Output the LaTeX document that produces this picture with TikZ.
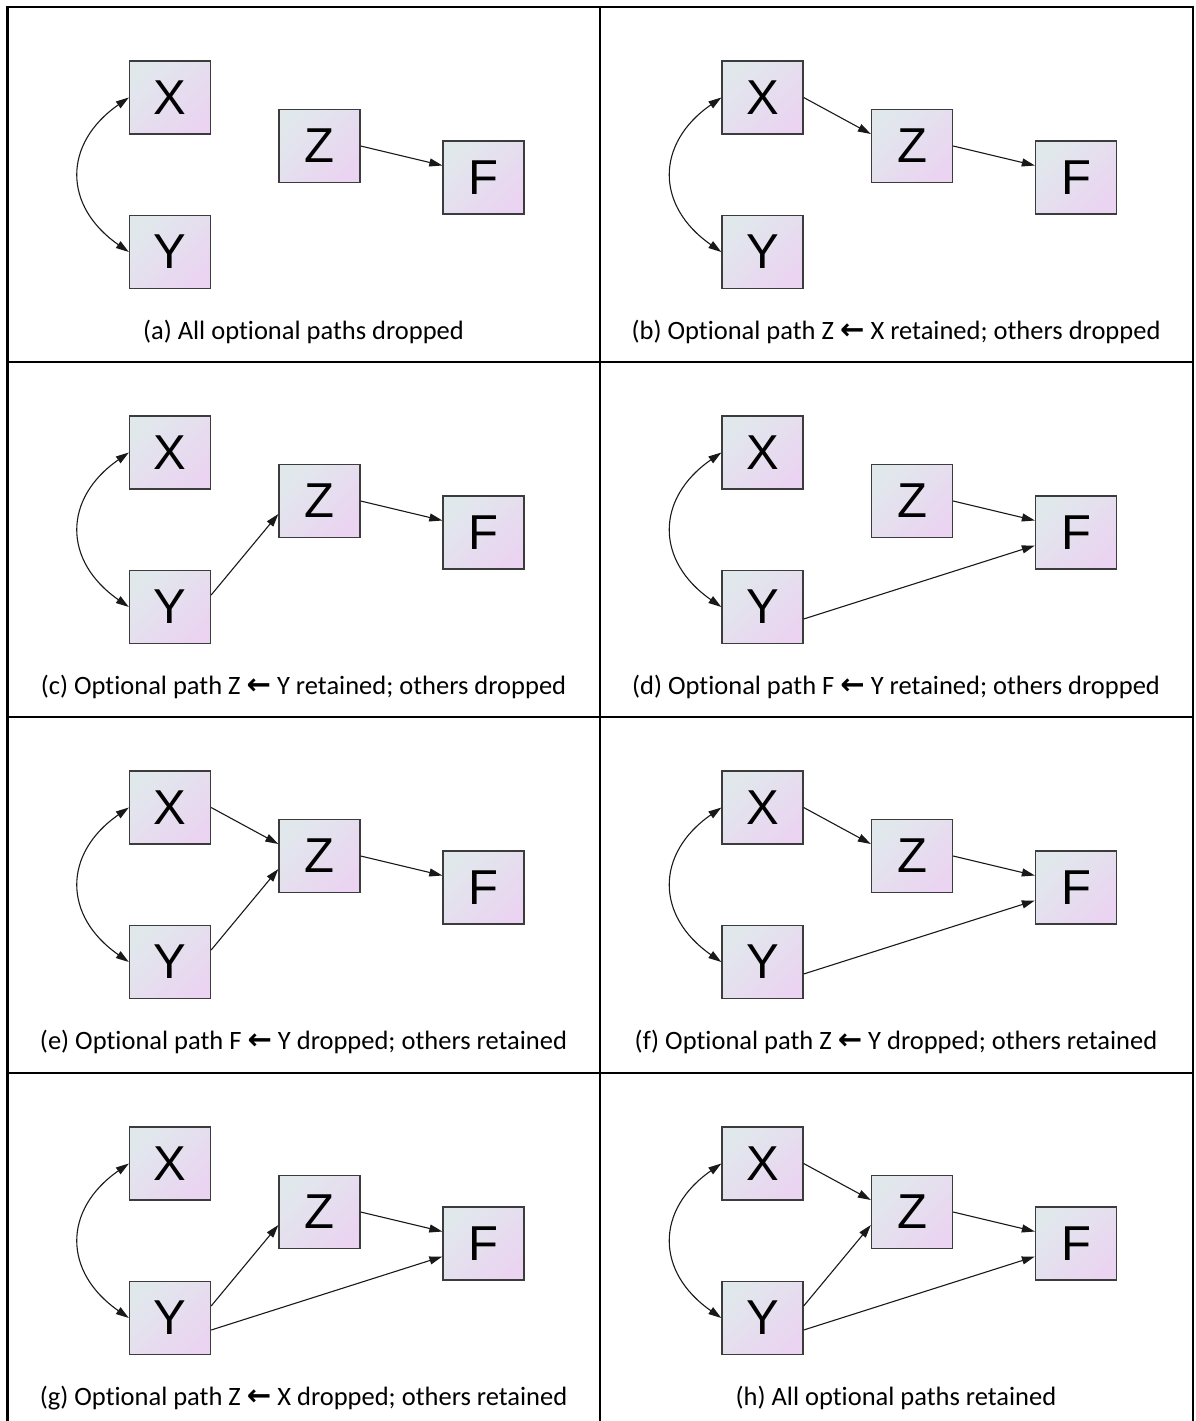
\documentclass[tikz,border=0pt]{standalone}
\usepackage{fontspec}
\setmainfont{Carlito}[Ligatures={NoCommon}]
\newfontfamily\nodefont{Liberation Sans}
\newfontfamily\arrowfont{DejaVu Sans}[Scale=1.1]
\usetikzlibrary{arrows.meta}
\definecolor{boxA}{RGB}{225,232,236}
\definecolor{boxB}{RGB}{234,212,241}
\definecolor{boxline}{RGB}{60,60,60}
\newcommand\capArrow{{\arrowfont\bfseries ←}}
\tikzset{
  var/.style={draw=boxline, line width=1.3pt, top color=boxA, bottom color=boxB, shading angle=45,
    minimum width=81pt, minimum height=73pt, inner sep=0pt, font=\nodefont\fontsize{49}{50}\selectfont},
  edge/.style={line width=1.1pt, draw=black!90, -{Triangle[length=13pt,width=8pt]}},
  biedge/.style={line width=1.1pt, draw=black!90, {Triangle[length=13pt,width=8pt]}-{Triangle[length=13pt,width=8pt]}},
  caption/.style={anchor=base, font=\fontsize{26.5}{30}\selectfont, inner sep=0pt},
  gridline/.style={line width=2.5pt, draw=black}
}
\newcommand\drawpanel[4]{%
  \begin{scope}[shift={(#1,#2)}]
    \node[var] (X#3) at (162.5,90.5) {X};
    \node[var] (Y#3) at (162.5,245) {Y};
    \node[var] (Z#3) at (312,139) {Z};
    \node[var] (F#3) at (476,170.5) {F};
    \node[caption] (C#3) at (296,332) {#4};
    \draw[biedge] (X#3.west) .. controls +(-66,46) and +(-66,-46) .. (Y#3.west);
    \draw[edge] (Z#3.east) -- ([yshift=12pt]F#3.west);
  \end{scope}}
\newcommand\edgeXZ[1]{\draw[edge] (X#1.east) -- ([yshift=12pt]Z#1.west);}
\newcommand\edgeYZ[1]{\draw[edge] ([yshift=12pt]Y#1.east) -- ([yshift=-13pt]Z#1.west);}
\newcommand\edgeYF[1]{\draw[edge] ([yshift=-12pt]Y#1.east) -- ([yshift=-13pt]F#1.west);}
\begin{document}
\begin{tikzpicture}[x=1pt,y=-1pt]
  \useasboundingbox (0,0) rectangle (1196,1421);
  \fill[white] (0,0) rectangle (1196,1421);
  % grid
  \draw[gridline] (7.5,7) -- (1193,7);
  \draw[gridline] (7.5,362) -- (1193,362);
  \draw[gridline] (7.5,717) -- (1193,717);
  \draw[gridline] (7.5,1073) -- (1193,1073);
  \draw[gridline] (7.5,5.75) -- (7.5,1430);
  \draw[gridline] (600,5.75) -- (600,1430);
  \draw[gridline] (1193,5.75) -- (1193,1430);
  % panels
  \drawpanel{7.5}{7}{a}{(a) All optional paths dropped}
  \drawpanel{600}{7}{b}{(b) Optional path Z \capArrow{} X retained; others dropped}
  \edgeXZ{b}
  \drawpanel{7.5}{362}{c}{(c) Optional path Z \capArrow{} Y retained; others dropped}
  \edgeYZ{c}
  \drawpanel{600}{362}{d}{(d) Optional path F \capArrow{} Y retained; others dropped}
  \edgeYF{d}
  \drawpanel{7.5}{717}{e}{(e) Optional path F \capArrow{} Y dropped; others retained}
  \edgeXZ{e}\edgeYZ{e}
  \drawpanel{600}{717}{f}{(f) Optional path Z \capArrow{} Y dropped; others retained}
  \edgeXZ{f}\edgeYF{f}
  \drawpanel{7.5}{1073}{g}{(g) Optional path Z \capArrow{} X dropped; others retained}
  \edgeYZ{g}\edgeYF{g}
  \drawpanel{600}{1073}{h}{(h) All optional paths retained}
  \edgeXZ{h}\edgeYZ{h}\edgeYF{h}
\end{tikzpicture}
\end{document}
